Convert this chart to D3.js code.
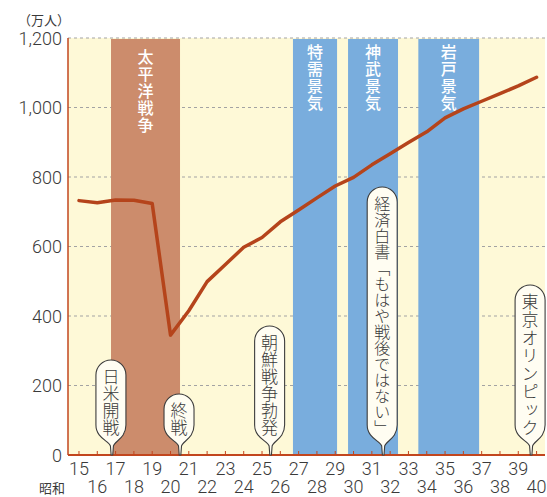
<!DOCTYPE html>
<html><head><meta charset="utf-8">
<script src="https://cdn.jsdelivr.net/npm/d3@7/dist/d3.min.js"></script>
<style>
body{margin:0;background:#fff;}
text{font-family:"Noto Sans CJK JP","Noto Sans",sans-serif;}
text.num{font-family:Roboto,"Liberation Sans",sans-serif;}
</style>
</head><body>
<svg id="chart" width="547" height="497"></svg>
<script>
// ---- data ----
const years = [15,16,17,18,19,20,21,22,23,24,25,26,27,28,29,30,31,32,33,34,35,36,37,38,39,40];
const values = [732,726,734,733,724,345,415,499,548,598,626,671,705,740,774,799,835,867,899,930,970,996,1018,1040,1062,1087];
const yTicks = [0,200,400,600,800,1000,1200];
const xLabelsTop = [15,17,19,21,23,25,27,29,31,33,35,37,39];
const xLabelsBottom = [16,18,20,22,24,26,28,30,32,34,36,38,40];
const bandNames = ["太平洋戦争","特需景気","神武景気","岩戸景気"];
const bandStart = [16.75, 26.69, 29.70, 33.54];
const bandEnd   = [20.52, 29.10, 32.43, 36.86];
const bandKind  = ["war","boom","boom","boom"];
const eventNames = ["日米開戦","終戦","朝鮮戦争勃発","経済白書「もはや戦後ではない」","東京オリンピック"];
const eventYears = [16.8, 20.52, 25.47, 31.62, 39.7];
const unitLabel = "（万人）";
const eraLabel = "昭和";

// ---- layout / style ----
const L = 68, R = 545, T = 38, B = 455;
const colors = {bg:"#fef9d7", war:"#cc8c6c", boom:"#79addd", line:"#b5441b", axis:"#c2461e", grid:"#a3a3a3", text:"#3a3a3a"};
const svg = d3.select("#chart");
const x = d3.scaleLinear().domain([14.4, 40.46]).range([L, R]);
const y = d3.scaleLinear().domain([0, 1200]).range([B, T]);

// background
svg.append("rect").attr("x", L).attr("y", T).attr("width", R-L).attr("height", B-T).attr("fill", colors.bg);

// grid
svg.append("g").selectAll("line").data(yTicks.filter(d=>d>0)).join("line")
  .attr("x1", L).attr("x2", R).attr("y1", d=>y(d)).attr("y2", d=>y(d))
  .attr("stroke", colors.grid).attr("stroke-width", 1).attr("stroke-dasharray", "3,3");

// bands
const bandIdx = d3.range(bandNames.length);
svg.append("g").selectAll("rect").data(bandIdx).join("rect")
  .attr("x", i=>x(bandStart[i])).attr("width", i=>x(bandEnd[i])-x(bandStart[i]))
  .attr("y", y(1200)+1).attr("height", B-(y(1200)+1))
  .attr("fill", i=>colors[bandKind[i]]);

const bandTextTop = [57, 52, 52, 52];
svg.append("g").selectAll("text").data(bandIdx).join("text")
  .attr("x", i=>(x(bandStart[i])+x(bandEnd[i]))/2)
  .attr("y", i=>bandTextTop[i]-8)
  .style("writing-mode","vertical-rl").style("letter-spacing","1px")
  .attr("font-size", 16).attr("font-weight", 500).attr("fill","#fff").text(i=>bandNames[i]);

// axes lines
svg.append("line").attr("x1", L).attr("x2", L).attr("y1", T).attr("y2", B)
  .attr("stroke", colors.axis).attr("stroke-width", 1.5);
svg.append("line").attr("x1", L).attr("x2", R).attr("y1", B).attr("y2", B)
  .attr("stroke", colors.axis).attr("stroke-width", 2);
svg.append("g").selectAll("line").data(years).join("line")
  .attr("x1", d=>x(d)).attr("x2", d=>x(d)).attr("y1", B).attr("y2", B-4)
  .attr("stroke", colors.axis).attr("stroke-width", 1);

// y labels
svg.append("g").selectAll("text").data(yTicks).join("text").attr("class","num")
  .attr("x", 62).attr("y", d=>y(d)).attr("text-anchor","end").attr("dominant-baseline","central")
  .attr("font-size", 18).attr("font-weight", 300).attr("fill", colors.text).text(d3.format(","));
svg.append("text").attr("x", 44).attr("y", 19).attr("text-anchor","middle").attr("dominant-baseline","central")
  .attr("font-size", 13).attr("fill", colors.text).text(unitLabel);

// x labels
svg.append("g").selectAll("text").data(xLabelsTop).join("text").attr("class","num")
  .attr("x", d=>x(d)).attr("y", 468).attr("text-anchor","middle").attr("dominant-baseline","central")
  .attr("font-size", 18).attr("font-weight", 300).attr("fill", colors.text).text(d=>d);
svg.append("g").selectAll("text").data(xLabelsBottom).join("text").attr("class","num")
  .attr("x", d=>x(d)).attr("y", 486.5).attr("text-anchor","middle").attr("dominant-baseline","central")
  .attr("font-size", 18).attr("font-weight", 300).attr("fill", colors.text).text(d=>d);
svg.append("text").attr("x", 52).attr("y", 487).attr("text-anchor","middle").attr("dominant-baseline","central")
  .attr("font-size", 13).attr("fill", colors.text).text(eraLabel);

// line
const line = d3.line().x((d,i)=>x(years[i])).y(d=>y(d));
svg.append("path").datum(values).attr("d", line).attr("fill","none")
  .attr("stroke", colors.line).attr("stroke-width", 3.5).attr("stroke-linejoin","round").attr("stroke-linecap","round");

// callouts
const fontSizes = [17,17,17,16,17];
const spacing = [0,0,0,0,1];
const lastCenter = 428, w = 30, r = 15;
eventNames.forEach((name,i)=>{
  const n = Array.from(name).length;
  const step = fontSizes[i] + spacing[i];
  const px = x(eventYears[i]);
  const cx = px - 1;
  const top = lastCenter - (n-1)*step - 17;
  const bot = lastCenter + 12;
  const p = d3.path();
  p.moveTo(cx-w/2, top+r);
  p.arc(cx, top+r, r, Math.PI, 0);
  p.lineTo(cx+w/2, bot-r);
  p.bezierCurveTo(cx+w/2, bot-2, px+3, bot+1, px+1.5, bot+6);
  p.lineTo(px+0.8, B);
  p.lineTo(px-0.8, B);
  p.lineTo(px-1.5, bot+6);
  p.bezierCurveTo(px-3, bot+1, cx-w/2, bot-2, cx-w/2, bot-r);
  p.closePath();
  svg.append("path").attr("d", p.toString()).attr("fill","#fffdf2").attr("stroke","#3c3c3c").attr("stroke-width",1.1);
  svg.append("text").attr("x", cx).attr("y", top + 17 - fontSizes[i]/2)
    .style("writing-mode","vertical-rl").style("letter-spacing", spacing[i]+"px")
    .attr("font-size", fontSizes[i]).attr("font-weight", 300).attr("fill", colors.text).text(name);
});
</script>
</body></html>
